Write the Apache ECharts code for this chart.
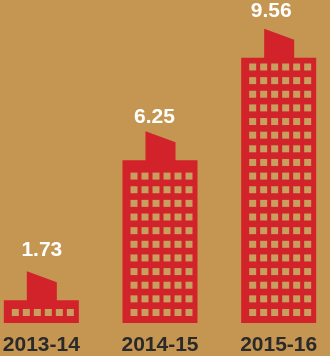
<!DOCTYPE html>
<html>
<head>
<meta charset="utf-8">
<style>html,body{margin:0;padding:0;background:#c59552}#chart{width:330px;height:356px}</style>
<script src="https://cdn.jsdelivr.net/npm/echarts@6/dist/echarts.min.js"></script>
</head>
<body>
<div id="chart"></div>
<script>
// Yearly figures, drawn as tower blocks on a linear scale.
const years = ['2013-14', '2014-15', '2015-16'];
const values = [1.73, 6.25, 9.56];
const windowRows = [1, 11, 19];
const labelShift = [0, -6, -8];
const labelLift = [50, 43, 46];

const AXIS_MIN = 1;
const RED = '#d2232a';
const WINDOW = '#c89f5f';

function drawTower(params, api) {
  const i = api.value(0);
  const value = api.value(1);
  const top = api.coord([i, value]);
  const base = api.coord([i, AXIS_MIN]);
  const w = api.size([1, 0])[0] * 0.632;
  const left = top[0] - w / 2;
  const topY = top[1];
  const baseY = base[1];
  const children = [
    { type: 'rect', shape: { x: left, y: topY, width: w, height: baseY - topY }, style: { fill: RED } },
    { type: 'polygon', shape: { points: [
      [left + 23, topY + 1], [left + 23, topY - 29], [left + 53, topY - 18], [left + 53, topY + 1]
    ] }, style: { fill: RED } },
    { type: 'text', style: {
      text: value.toFixed(2), x: left + 38 + labelShift[i], y: topY - labelLift[i],
      fill: '#ffffff', font: 'bold 21px "Liberation Sans", Arial, sans-serif',
      align: 'center', verticalAlign: 'middle'
    } }
  ];
  for (let r = 0; r < windowRows[i]; r++) {
    for (let c = 0; c < 6; c++) {
      children.push({ type: 'rect', shape: {
        x: left + 8 + c * 11, y: baseY - 14 - r * 13.64, width: 7, height: 7
      }, style: { fill: WINDOW } });
    }
  }
  return { type: 'group', children };
}

const chart = echarts.init(document.getElementById('chart'), null, { renderer: 'canvas' });
chart.setOption({
  animation: false,
  backgroundColor: '#c59552',
  grid: { left: -18, width: 356, top: 0, height: 323, outerBoundsMode: 'none' },
  xAxis: {
    type: 'category',
    data: years,
    axisLine: { show: false },
    axisTick: { show: false },
    axisLabel: {
      interval: 0, margin: 12, color: '#2a2a2a',
      fontFamily: '"Liberation Sans", Arial, sans-serif', fontWeight: 'bold', fontSize: 21
    }
  },
  // The hidden value axis starts at 1, as the shortest tower stands only a little above it.
  yAxis: { type: 'value', min: AXIS_MIN, max: 11.42, show: false, splitLine: { show: false } },
  series: [{
    type: 'custom',
    clip: false,
    renderItem: drawTower,
    encode: { x: 0, y: 1 },
    data: values.map((v, i) => [i, v])
  }]
});
</script>
</body>
</html>
